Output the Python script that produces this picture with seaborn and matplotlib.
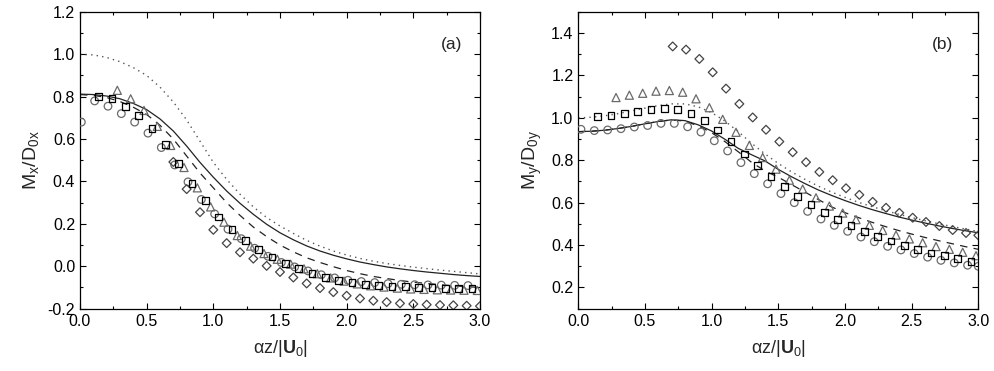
import numpy as np
import pandas as pd
import seaborn as sns
import matplotlib
matplotlib.use("Agg")
import matplotlib.pyplot as plt
import matplotlib.ticker as mtick

# ---------------- panel (a) ----------------
xa_line = [0.0, 0.1, 0.2, 0.3, 0.4, 0.5, 0.6, 0.7, 0.8, 0.9, 1.0, 1.1, 1.2, 1.3, 1.4, 1.5,
           1.6, 1.7, 1.8, 1.9, 2.0, 2.1, 2.2, 2.3, 2.4, 2.5, 2.6, 2.7, 2.8, 2.9, 3.0]
a_solid = [0.812, 0.810, 0.803, 0.790, 0.768, 0.739, 0.695, 0.638, 0.567, 0.490, 0.420, 0.355,
           0.297, 0.245, 0.198, 0.158, 0.125, 0.096, 0.072, 0.052, 0.035, 0.020, 0.008, -0.003,
           -0.012, -0.020, -0.027, -0.033, -0.039, -0.044, -0.048]
a_dash = [0.810, 0.806, 0.796, 0.777, 0.750, 0.716, 0.665, 0.600, 0.520, 0.440, 0.370, 0.300,
          0.240, 0.185, 0.140, 0.100, 0.068, 0.040, 0.018, -0.002, -0.020, -0.035, -0.048,
          -0.058, -0.067, -0.075, -0.081, -0.087, -0.092, -0.096, -0.100]
a_dot = [1.000, 0.997, 0.985, 0.965, 0.937, 0.900, 0.845, 0.775, 0.690, 0.590, 0.490, 0.410,
         0.340, 0.280, 0.230, 0.190, 0.155, 0.122, 0.095, 0.072, 0.053, 0.037, 0.024, 0.013,
         0.004, -0.004, -0.011, -0.018, -0.024, -0.030, -0.036]

xa_circ = [0.01, 0.11, 0.21, 0.31, 0.41, 0.51, 0.61, 0.71, 0.81, 0.91, 1.01, 1.11, 1.21, 1.31,
           1.41, 1.51, 1.61, 1.71, 1.81, 1.91, 2.01, 2.11, 2.21, 2.31, 2.41, 2.51, 2.61, 2.71,
           2.81, 2.91]
ya_circ = [0.68, 0.78, 0.755, 0.72, 0.68, 0.628, 0.56, 0.478, 0.398, 0.315, 0.247, 0.175, 0.13,
           0.085, 0.047, 0.018, -0.003, -0.022, -0.04, -0.055, -0.066, -0.072, -0.077, -0.082,
           -0.085, -0.087, -0.088, -0.089, -0.09, -0.091]
xa_sq = [0.14, 0.24, 0.34, 0.44, 0.54, 0.64, 0.74, 0.84, 0.94, 1.04, 1.14, 1.24, 1.34, 1.44,
         1.54, 1.64, 1.74, 1.84, 1.94, 2.04, 2.14, 2.24, 2.34, 2.44, 2.54, 2.64, 2.74, 2.84, 2.94]
ya_sq = [0.80, 0.79, 0.755, 0.71, 0.65, 0.575, 0.485, 0.392, 0.31, 0.232, 0.172, 0.12, 0.078,
         0.044, 0.014, -0.01, -0.033, -0.052, -0.066, -0.077, -0.085, -0.09, -0.094, -0.097,
         -0.1, -0.102, -0.103, -0.105, -0.106]
xa_tri = [0.28, 0.38, 0.48, 0.58, 0.68, 0.78, 0.88, 0.98, 1.08, 1.18, 1.28, 1.38, 1.48, 1.58,
          1.68, 1.78, 1.88, 1.98, 2.08, 2.18, 2.28, 2.38, 2.48, 2.58, 2.68, 2.78, 2.88, 2.98]
ya_tri = [0.83, 0.79, 0.735, 0.66, 0.57, 0.466, 0.37, 0.28, 0.208, 0.145, 0.095, 0.06, 0.033,
          0.01, -0.012, -0.035, -0.055, -0.07, -0.083, -0.092, -0.098, -0.103, -0.107, -0.109,
          -0.111, -0.112, -0.113, -0.114]
xa_dia = [0.70, 0.80, 0.90, 1.00, 1.10, 1.20, 1.30, 1.40, 1.50, 1.60, 1.70, 1.80, 1.90, 2.00,
          2.10, 2.20, 2.30, 2.40, 2.50, 2.60, 2.70, 2.80, 2.90, 3.00]
ya_dia = [0.492, 0.364, 0.255, 0.172, 0.109, 0.066, 0.036, 0.002, -0.027, -0.053, -0.081,
          -0.103, -0.122, -0.139, -0.152, -0.1625, -0.169, -0.175, -0.178, -0.181, -0.183,
          -0.184, -0.186, -0.188]

# ---------------- panel (b) ----------------
xb_line = xa_line
b_solid = [0.935, 0.937, 0.942, 0.950, 0.960, 0.972, 0.983, 0.991, 0.987, 0.967, 0.938, 0.899,
           0.856, 0.826, 0.797, 0.757, 0.722, 0.690, 0.660, 0.634, 0.610, 0.588, 0.568, 0.550,
           0.533, 0.518, 0.504, 0.491, 0.479, 0.468, 0.458]
b_dash = [0.935, 0.937, 0.942, 0.950, 0.960, 0.972, 0.983, 0.990, 0.985, 0.962, 0.930, 0.888,
          0.840, 0.790, 0.750, 0.720, 0.685, 0.650, 0.615, 0.580, 0.553, 0.530, 0.508, 0.488,
          0.469, 0.452, 0.436, 0.421, 0.407, 0.393, 0.380]
b_dot = [1.000, 1.003, 1.010, 1.020, 1.033, 1.046, 1.058, 1.066, 1.066, 1.052, 1.025, 0.985,
         0.935, 0.880, 0.830, 0.785, 0.745, 0.710, 0.678, 0.650, 0.625, 0.602, 0.582, 0.563,
         0.546, 0.530, 0.515, 0.501, 0.488, 0.476, 0.464]

xb_circ = [0.02, 0.12, 0.22, 0.32, 0.42, 0.52, 0.62, 0.72, 0.82, 0.92, 1.02, 1.12, 1.22, 1.32,
           1.42, 1.52, 1.62, 1.72, 1.82, 1.92, 2.02, 2.12, 2.22, 2.32, 2.42, 2.52, 2.62, 2.72,
           2.82, 2.92, 3.0]
yb_circ = [0.946, 0.94, 0.943, 0.949, 0.957, 0.964, 0.974, 0.974, 0.958, 0.933, 0.892, 0.844,
           0.789, 0.737, 0.689, 0.643, 0.60, 0.559, 0.523, 0.493, 0.465, 0.438, 0.416, 0.394,
           0.377, 0.36, 0.343, 0.328, 0.316, 0.305, 0.30]
xb_sq = [0.145, 0.245, 0.345, 0.445, 0.545, 0.645, 0.745, 0.845, 0.945, 1.045, 1.145, 1.245,
         1.345, 1.445, 1.545, 1.645, 1.745, 1.845, 1.945, 2.045, 2.145, 2.245, 2.345, 2.445,
         2.545, 2.645, 2.745, 2.845, 2.945]
yb_sq = [1.005, 1.01, 1.019, 1.029, 1.038, 1.043, 1.041, 1.019, 0.986, 0.943, 0.888, 0.83,
         0.775, 0.723, 0.675, 0.629, 0.592, 0.554, 0.52, 0.491, 0.465, 0.441, 0.419, 0.399,
         0.38, 0.363, 0.352, 0.336, 0.322]
xb_tri = [0.283, 0.383, 0.483, 0.583, 0.683, 0.783, 0.883, 0.983, 1.083, 1.183, 1.283, 1.383,
          1.483, 1.583, 1.683, 1.783, 1.883, 1.983, 2.083, 2.183, 2.283, 2.383, 2.483, 2.583,
          2.683, 2.783, 2.883, 2.983]
yb_tri = [1.096, 1.107, 1.116, 1.126, 1.129, 1.121, 1.09, 1.048, 0.993, 0.932, 0.87, 0.813,
          0.758, 0.706, 0.664, 0.623, 0.584, 0.551, 0.52, 0.493, 0.469, 0.447, 0.429, 0.411,
          0.393, 0.38, 0.366, 0.35]
xb_dia = [0.708, 0.808, 0.908, 1.008, 1.108, 1.208, 1.308, 1.408, 1.508, 1.608, 1.708, 1.808,
          1.908, 2.008, 2.108, 2.208, 2.308, 2.408, 2.508, 2.608, 2.708, 2.808, 2.908, 3.0]
yb_dia = [1.337, 1.322, 1.278, 1.215, 1.138, 1.066, 1.002, 0.944, 0.888, 0.838, 0.791, 0.745,
          0.706, 0.668, 0.637, 0.604, 0.576, 0.552, 0.529, 0.509, 0.49, 0.471, 0.457, 0.446]

sns.set_style("ticks")
plt.rcParams['font.family'] = ['Liberation Sans', 'DejaVu Sans']
plt.rcParams['mathtext.fontset'] = 'custom'
plt.rcParams['mathtext.rm'] = 'Liberation Sans'
plt.rcParams['mathtext.it'] = 'Liberation Sans'
plt.rcParams['mathtext.bf'] = 'Liberation Sans:bold'

fig = plt.figure(figsize=(9.95, 3.71), dpi=100)
ax_a = fig.add_axes([0.0804, 0.168, 0.402, 0.80])
ax_b = fig.add_axes([0.5812, 0.168, 0.402, 0.80])

GRAY = "#6a6a6a"
DGRAY = "#444444"


def draw_panel(ax, xl, solid, dash, dot, circ, sq, tri, dia):
    sns.lineplot(x=xl, y=solid, ax=ax, color="#222222", lw=0.9, estimator=None, sort=False)
    sns.lineplot(x=xl, y=dash, ax=ax, color="#222222", lw=0.9, estimator=None, sort=False,
                 linestyle=(0, (6, 5)))
    sns.lineplot(x=xl, y=dot, ax=ax, color="#555555", lw=1.0, estimator=None, sort=False,
                 linestyle=(0, (1, 3)))
    kw = dict(ax=ax, facecolor="none", linewidth=0.9, zorder=3, clip_on=True)
    sns.scatterplot(x=circ[0], y=circ[1], marker="o", s=30, edgecolor=GRAY, **kw)
    sns.scatterplot(x=tri[0], y=tri[1], marker="^", s=34, edgecolor=GRAY, **kw)
    sns.scatterplot(x=dia[0], y=dia[1], marker="D", s=20, edgecolor=DGRAY, **kw)
    sns.scatterplot(x=sq[0], y=sq[1], marker="s", s=24, edgecolor="black", **kw)


draw_panel(ax_a, xa_line, a_solid, a_dash, a_dot, (xa_circ, ya_circ), (xa_sq, ya_sq),
           (xa_tri, ya_tri), (xa_dia, ya_dia))
draw_panel(ax_b, xb_line, b_solid, b_dash, b_dot, (xb_circ, yb_circ), (xb_sq, yb_sq),
           (xb_tri, yb_tri), (xb_dia, yb_dia))

ax_a.set_ylim(-0.2, 1.2)
ax_b.set_ylim(0.1, 1.5)
ax_a.yaxis.set_major_locator(mtick.MultipleLocator(0.2))
ax_b.yaxis.set_major_locator(mtick.FixedLocator([0.2, 0.4, 0.6, 0.8, 1.0, 1.2, 1.4]))

for ax, tag in ((ax_a, "(a)"), (ax_b, "(b)")):
    ax.set_xlim(0, 3.0)
    ax.xaxis.set_major_locator(mtick.MultipleLocator(0.5))
    ax.xaxis.set_minor_locator(mtick.MultipleLocator(0.25))
    ax.yaxis.set_minor_locator(mtick.MultipleLocator(0.1))
    ax.xaxis.set_major_formatter(mtick.FormatStrFormatter('%.1f'))
    ax.yaxis.set_major_formatter(mtick.FormatStrFormatter('%.1f'))
    ax.tick_params(which='both', direction='in', top=True, right=True, labelsize=11.5,
                   width=0.8, colors='black')
    ax.tick_params(which='major', length=4)
    ax.tick_params(which='minor', length=2.5)
    for sp in ax.spines.values():
        sp.set_linewidth(0.9)
        sp.set_color('black')
    ax.set_xlabel(r'$\alpha z/|\mathbf{U}_0|$', fontsize=13, labelpad=7)
    ax.text(0.93 if tag == "(a)" else 0.91, 0.89, tag, transform=ax.transAxes,
            ha='center', va='center', fontsize=12.5)

ax_a.set_ylabel(r'$\mathrm{M_x/D_{0x}}$', fontsize=14, labelpad=5)
ax_b.set_ylabel(r'$\mathrm{M_y/D_{0y}}$', fontsize=14, labelpad=5)

fig.savefig("out.png", dpi=100)
